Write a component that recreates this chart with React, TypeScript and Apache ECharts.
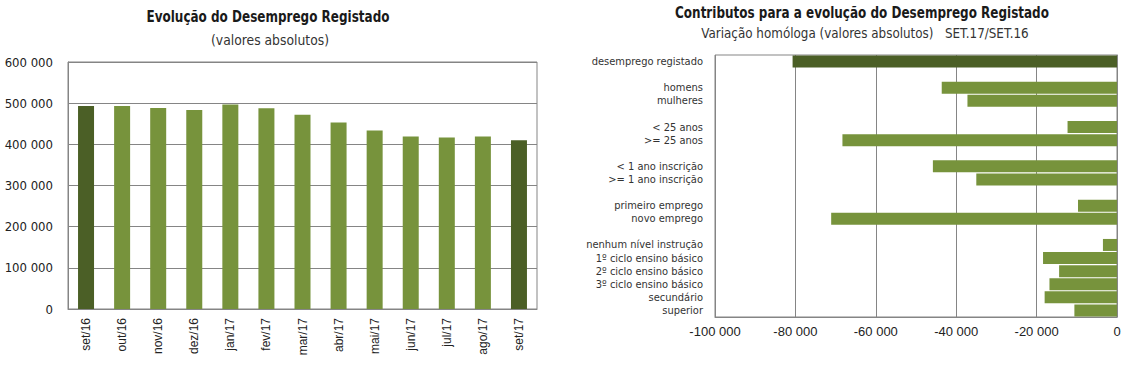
import React, { useEffect, useRef } from "react";
import * as echarts from "echarts";

const months = ["set/16", "out/16", "nov/16", "dez/16", "jan/17", "fev/17", "mar/17", "abr/17", "mai/17", "jun/17", "jul/17", "ago/17", "set/17"];
const desemprego = [493000, 493000, 488500, 483700, 496600, 487900, 471600, 452900, 433500, 419000, 416500, 419000, 410000];
const darkMonths = [0, 12];

const contribCategories = [
  "desemprego registado", "",
  "homens", "mulheres", "",
  "< 25 anos", ">= 25 anos", "",
  "< 1 ano inscrição", ">= 1 ano inscrição", "",
  "primeiro emprego", "novo emprego", "",
  "nenhum nível instrução", "1º ciclo ensino básico", "2º ciclo ensino básico", "3º ciclo ensino básico", "secundário", "superior",
];
const contribValues: (number | null)[] = [
  -80700, null,
  -43600, -37200, null,
  -12300, -68300, null,
  -45800, -35000, null,
  -9700, -71100, null,
  -3500, -18400, -14400, -16800, -18000, -10600,
];

const leftTitle = "Evolução do Desemprego Registado";
const leftSub = "(valores absolutos)";
const rightTitle = "Contributos para a evolução do Desemprego Registado";
const rightSub = "Variação homóloga (valores absolutos)   SET.17/SET.16";

const DARK = "#4b5f26";
const LIGHT = "#77933c";
const GRIDC = "#858585";
const TITLE_FONT = "'Liberation Sans Narrow', 'DejaVu Sans Condensed', 'Noto Sans', sans-serif";

function fmt(v: number): string {
  const s = Math.abs(v).toString().replace(/\B(?=(\d{3})+(?!\d))/g, " ");
  return (v < 0 ? "-" : "") + s;
}

export default function App() {
  const ref = useRef<HTMLDivElement>(null);
  useEffect(() => {
    if (!ref.current) return;
    const chart = echarts.init(ref.current, null, { renderer: "svg" });
    chart.setOption({
      animation: false,
      backgroundColor: "#ffffff",
      graphic: [
        { type: "text", x: 268, y: 17, scaleX: 0.89, style: { text: leftTitle, font: `bold 15px ${TITLE_FONT}`, fill: "#1a1a1a", align: "center", verticalAlign: "middle" } },
        { type: "text", x: 270, y: 40, scaleX: 0.95, style: { text: leftSub, font: `14.5px ${TITLE_FONT}`, fill: "#333", align: "center", verticalAlign: "middle" } },
        { type: "text", x: 862, y: 13, scaleX: 0.89, style: { text: rightTitle, font: `bold 15px ${TITLE_FONT}`, fill: "#1a1a1a", align: "center", verticalAlign: "middle" } },
        { type: "text", x: 865, y: 33, scaleX: 0.95, style: { text: rightSub, font: `14px ${TITLE_FONT}`, fill: "#333", align: "center", verticalAlign: "middle" } },
      ],
      grid: [
        { left: 68, top: 62, width: 469, height: 247, show: true, borderColor: GRIDC, borderWidth: 1 },
        { left: 715, top: 55, width: 402, height: 262, show: true, borderColor: GRIDC, borderWidth: 1 },
      ],
      xAxis: [
        {
          gridIndex: 0,
          type: "category",
          data: months,
          axisLine: { lineStyle: { color: GRIDC } },
          axisTick: { show: false },
          axisLabel: { rotate: 90, fontSize: 12, color: "#222", fontFamily: "'Liberation Sans', Arial, sans-serif", margin: 9 },
        },
        {
          gridIndex: 1,
          type: "value",
          min: -100000,
          max: 0,
          interval: 20000,
          axisLine: { show: true, lineStyle: { color: GRIDC } },
          axisTick: { show: false },
          splitLine: { show: true, lineStyle: { color: GRIDC } },
          axisLabel: { formatter: fmt, fontSize: 13, color: "#222", fontFamily: "'Liberation Sans', Arial, sans-serif", margin: 8 },
        },
      ],
      yAxis: [
        {
          gridIndex: 0,
          type: "value",
          min: 0,
          max: 600000,
          interval: 100000,
          axisLine: { show: true, lineStyle: { color: GRIDC } },
          axisTick: { show: false },
          splitLine: { show: true, lineStyle: { color: GRIDC } },
          axisLabel: { formatter: fmt, fontSize: 13, color: "#222", fontFamily: TITLE_FONT, margin: 15 },
        },
        {
          gridIndex: 1,
          type: "category",
          inverse: true,
          data: contribCategories,
          axisLine: { show: true, lineStyle: { color: GRIDC } },
          axisTick: { show: false },
          axisLabel: { fontSize: 11, color: "#333", fontFamily: TITLE_FONT, margin: 12, interval: 0 },
        },
      ],
      series: [
        {
          type: "bar",
          xAxisIndex: 0,
          yAxisIndex: 0,
          barWidth: 16,
          data: desemprego.map((v, i) => ({ value: v, itemStyle: { color: darkMonths.includes(i) ? DARK : LIGHT } })),
        },
        {
          type: "bar",
          xAxisIndex: 1,
          yAxisIndex: 1,
          barWidth: 12,
          data: contribValues.map((v, i) => ({ value: v, itemStyle: { color: i === 0 ? DARK : LIGHT } })),
        },
      ],
    });
    return () => chart.dispose();
  }, []);
  return <div ref={ref} style={{ position: "fixed", left: 0, top: 0, width: 1134, height: 369 }} />;
}
